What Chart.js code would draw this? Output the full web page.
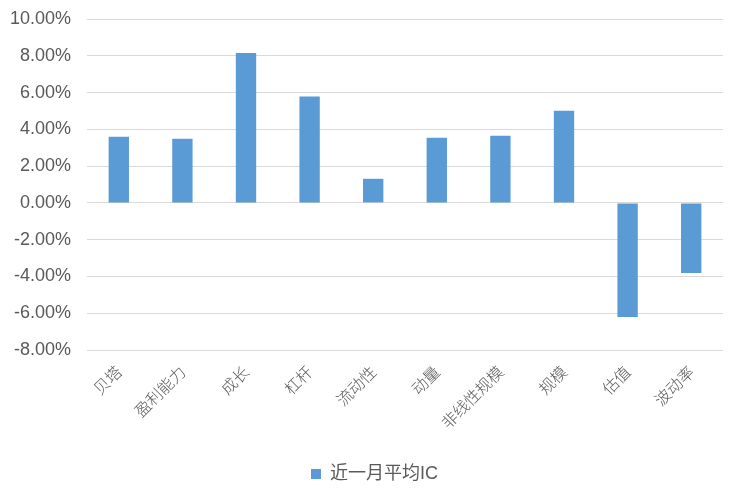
<!DOCTYPE html>
<html>
<head>
<meta charset="utf-8">
<script src="https://cdn.jsdelivr.net/npm/chart.js@4/dist/chart.umd.min.js"></script>
<style>
    html, body { margin: 0; padding: 0; background: #fff; }
    #wrap { width: 735px; height: 489px; }
</style>
</head>
<body>
<div id="wrap"><canvas id="icChart" width="735" height="489"></canvas></div>
<script>
// 因子近一月平均IC (%)
const factors = ['贝塔', '盈利能力', '成长', '杠杆', '流动性', '动量', '非线性规模', '规模', '估值', '波动率'];
const icValues = [3.60, 3.49, 8.15, 5.78, 1.31, 3.54, 3.65, 5.01, -6.21, -3.81];
const seriesName = '近一月平均IC';
const yTicks = [-8, -6, -4, -2, 0, 2, 4, 6, 8, 10];

const fontFamily = '"Liberation Sans", "Noto Sans CJK SC", sans-serif';
const grey = '#595959';

// nudge legend a bit right, like the original
const legendShift = {
    id: 'legendShift',
    afterLayout(chart) {
        if (chart.legend) { chart.legend.left += 13; chart.legend.right += 13; }
    }
};

const ctx = document.getElementById('icChart').getContext('2d');
new Chart(ctx, {
    type: 'bar',
    data: {
        labels: factors,
        datasets: [{
            label: seriesName,
            data: icValues,
            backgroundColor: '#5B9BD5',
            borderWidth: 0,
            barPercentage: 0.32,
            categoryPercentage: 1
        }]
    },
    options: {
        responsive: false,
        animation: false,
        layout: { padding: { top: 19, right: 12, bottom: -4, left: 0 } },
        plugins: {
            legend: {
                position: 'bottom',
                labels: {
                    color: grey,
                    font: { family: fontFamily, size: 18 },
                    boxWidth: 10,
                    boxHeight: 10,
                    padding: 2
                }
            },
            tooltip: { enabled: false }
        },
        scales: {
            x: {
                grid: { display: false },
                border: { display: false },
                ticks: {
                    color: grey,
                    font: { family: '"Noto Sans CJK SC", sans-serif', size: 16, weight: 300 },
                    maxRotation: 45,
                    minRotation: 45,
                    autoSkip: false,
                    padding: 4
                },
                afterFit: s => { s.height = 113; }
            },
            y: {
                min: -8,
                max: 10,
                afterBuildTicks: s => { s.ticks = yTicks.map(v => ({ value: v })); },
                grid: { color: '#d9d9d9', lineWidth: 1, drawTicks: false },
                border: { display: false },
                ticks: {
                    color: grey,
                    font: { family: fontFamily, size: 18 },
                    padding: 16,
                    callback: v => v.toFixed(2) + '%'
                },
                afterFit: s => { s.width = 87; s.paddingTop = 0; s.paddingBottom = 0; }
            }
        }
    },
    plugins: [legendShift]
});
</script>
</body>
</html>
